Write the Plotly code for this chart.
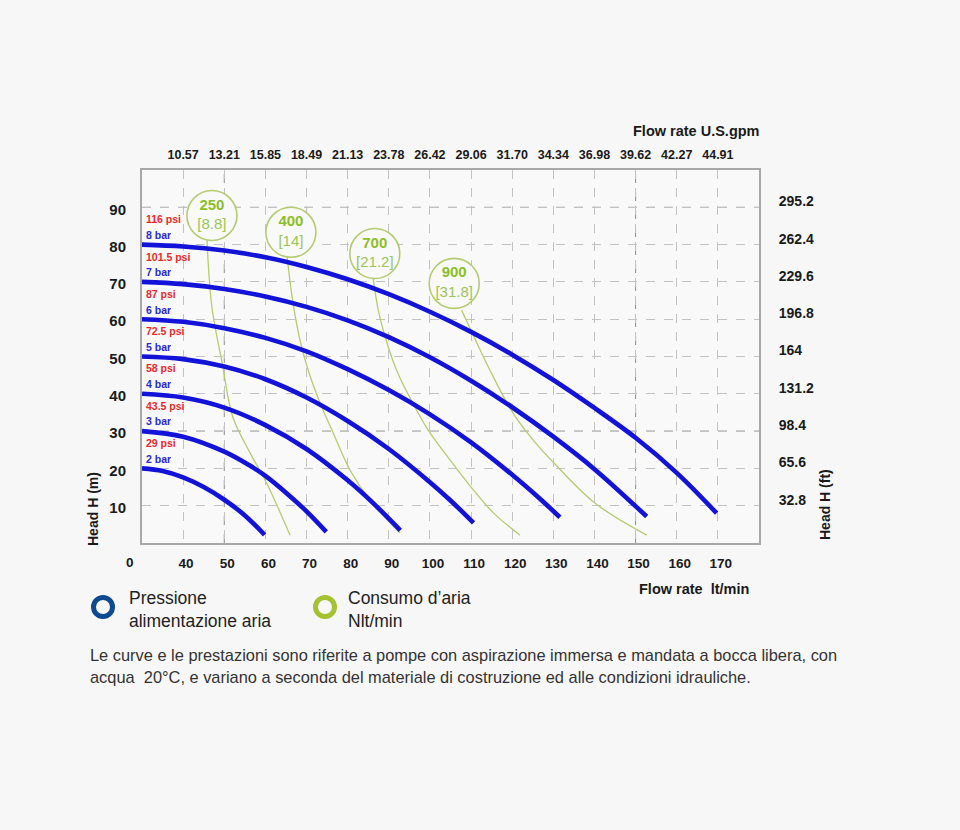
import plotly.graph_objects as go

# ---------------- data ----------------
flow_grid = [30, 40, 50, 60, 70, 80, 90, 100, 110, 120, 130, 140, 150, 160, 170]
bottom_labels = ["0", "40", "50", "60", "70", "80", "90", "100", "110", "120",
                 "130", "140", "150", "160", "170"]
gpm_labels = ["10.57", "13.21", "15.85", "18.49", "21.13", "23.78", "26.42", "29.06",
              "31.70", "34.34", "36.98", "39.62", "42.27", "44.91"]
head_grid = [10, 20, 30, 40, 50, 60, 70, 80, 90]
head_m_labels = ["10", "20", "30", "40", "50", "60", "70", "80", "90"]
head_ft_labels = ["32.8", "65.6", "98.4", "131.2", "164", "196.8", "229.6", "262.4", "295.2"]
strong_x = [50, 150]
strong_y = [30, 90]

# pump curves (flow l/min, head m) per air supply pressure
q_2bar = [30, 35, 40, 45, 50, 55, 59.8]
h_2bar = [20, 19.3, 17.6, 15.0, 11.6, 7.4, 2.2]
q_3bar = [30, 40, 50, 56, 60, 65, 70, 74.8]
h_3bar = [30, 28.5, 24.5, 20.9, 18.0, 13.5, 8.5, 3.0]
q_4bar = [30, 40, 50, 60, 70, 80, 86, 92.8]
h_4bar = [40, 39.0, 36.3, 31.6, 25.2, 16.8, 10.9, 3.4]
q_5bar = [30, 40, 50, 60, 70, 80, 90, 100, 105, 110.6]
h_5bar = [50, 49.3, 47.3, 43.9, 39.0, 32.7, 25.2, 16.3, 11.4, 5.4]
q_6bar = [30, 40, 50, 60, 70, 80, 90, 100, 110, 120, 126, 131.6]
h_6bar = [60, 59.3, 57.6, 55.0, 51.4, 46.6, 41.0, 34.5, 27.0, 18.3, 12.6, 6.9]
q_7bar = [30, 40, 50, 60, 70, 80, 90, 100, 110, 120, 130, 140, 152.7]
h_7bar = [70, 69.4, 68.1, 66.1, 63.3, 59.7, 55.2, 49.8, 43.5, 36.4, 28.5, 19.8, 7.1]
q_8bar = [30, 40, 50, 60, 70, 80, 90, 100, 110, 120, 130, 140, 150, 160, 169.7]
h_8bar = [80, 79.5, 78.4, 76.6, 74.0, 70.7, 66.7, 62.0, 56.6, 50.5, 43.7, 36.2, 28.2, 18.8, 8.0]

bar_labels = ["2 bar", "3 bar", "4 bar", "5 bar", "6 bar", "7 bar", "8 bar"]
psi_labels = ["29 psi", "43.5 psi", "58 psi", "72.5 psi", "87 psi", "101.5 psi", "116 psi"]
start_heads = [20, 30, 40, 50, 60, 70, 80]

# air consumption iso-lines (Nlt/min)
q_air250 = [45.8, 47.0, 49.5, 52.1, 56.3, 60.1, 66.0]
h_air250 = [81.1, 63.2, 48.2, 33.7, 24.1, 16.5, 2.1]
q_air400 = [65.3, 66.5, 68.4, 70.4, 73.3, 76.4, 80.6, 85.4, 92.7]
h_air400 = [76.6, 65.9, 54.4, 46.3, 37.5, 29.7, 19.5, 11.5, 2.7]
q_air700 = [86.2, 87.6, 89.6, 92.2, 95.6, 99.6, 104.6, 110.0, 115.5, 121.9]
h_air700 = [70.9, 61.6, 53.5, 45.5, 38.0, 30.2, 22.7, 15.0, 8.0, 2.1]
q_air900 = [107.7, 110.0, 114.6, 120.2, 125.1, 130.2, 140.1, 152.7]
h_air900 = [62.4, 57.0, 46.3, 34.8, 27.6, 21.4, 10.7, 2.1]

air_nl = ["250", "400", "700", "900"]
air_scfm = ["[8.8]", "[14]", "[21.2]", "[31.8]"]
bubble_q = [47.0, 66.2, 86.6, 105.9]
bubble_h = [87.8, 83.3, 77.6, 69.6]

# ---------------- style ----------------
FONT = "Arial, 'Liberation Sans', sans-serif"
PAPER = "#f7f7f7"
PLOTBG = "#f9f9f9"
BLUE = "#1212d8"
GREEN_LINE = "#b5cb70"
GREEN_TXT = "#8cbe2a"
GREEN_TXT2 = "#9cc455"
RED = "#e8282c"
LBLUE = "#2a2ad2"
DARK = "#1a1a1a"

fig = go.Figure()

for q, h in [(q_air250, h_air250), (q_air400, h_air400),
             (q_air700, h_air700), (q_air900, h_air900)]:
    fig.add_trace(go.Scatter(x=q, y=h, mode="lines",
                             line=dict(color=GREEN_LINE, width=1.3, shape="spline", smoothing=1.0),
                             hoverinfo="skip", showlegend=False))

for q, h in [(q_2bar, h_2bar), (q_3bar, h_3bar), (q_4bar, h_4bar), (q_5bar, h_5bar),
             (q_6bar, h_6bar), (q_7bar, h_7bar), (q_8bar, h_8bar)]:
    fig.add_trace(go.Scatter(x=q, y=h, mode="lines",
                             line=dict(color=BLUE, width=4.6, shape="spline", smoothing=1.0),
                             showlegend=False))

bubble_text = [f"<b>{a}</b><br><span style='color:{GREEN_TXT2}'>{s}</span>" for a, s in zip(air_nl, air_scfm)]
fig.add_trace(go.Scatter(
    x=bubble_q, y=bubble_h, mode="markers+text", text=bubble_text, textposition="middle center",
    textfont=dict(family=FONT, size=15, color=GREEN_TXT),
    marker=dict(size=50, color=PLOTBG, line=dict(color=GREEN_LINE, width=1.6)),
    showlegend=False, hoverinfo="skip"))

# invisible trace on secondary axes so they render
fig.add_trace(go.Scatter(x=[flow_grid[0]], y=[head_grid[0]], xaxis="x2", yaxis="y2",
                         mode="markers", marker=dict(opacity=0), showlegend=False, hoverinfo="skip"))

x_range = [flow_grid[0], flow_grid[-1] + 10]
y_range = [0, 100]

shapes = []
for v in strong_x:
    shapes.append(dict(type="line", xref="x", yref="y", x0=v, x1=v, y0=y_range[0], y1=y_range[1],
                       line=dict(color="#8c8c8c", width=1, dash="dash"), layer="below"))
for v in strong_y:
    shapes.append(dict(type="line", xref="x", yref="y", y0=v, y1=v, x0=x_range[0], x1=x_range[1],
                       line=dict(color="#8c8c8c", width=1, dash="dash"), layer="below"))

# legend rings (pixel-sized circles anchored in paper coordinates)
for cx, col in [(-0.0632, "#0d4a8f"), (0.2966, "#a4c232")]:
    shapes.append(dict(type="circle", xref="paper", yref="paper", xsizemode="pixel", ysizemode="pixel",
                       xanchor=cx, yanchor=-0.1716, x0=-9.5, x1=9.5, y0=-9.5, y1=9.5,
                       line=dict(color=col, width=5)))

annotations = []
for h0, bl, pl in zip(start_heads, bar_labels, psi_labels):
    annotations.append(dict(x=flow_grid[0], y=h0 + 2.6, xref="x", yref="y", text=f"<b>{bl}</b>",
                            showarrow=False, xanchor="left", yanchor="middle", xshift=2, height=12,
                            font=dict(family=FONT, size=10.5, color=LBLUE)))
    annotations.append(dict(x=flow_grid[0], y=h0 + 6.8, xref="x", yref="y", text=f"<b>{pl}</b>",
                            showarrow=False, xanchor="left", yanchor="middle", xshift=2, height=12,
                            font=dict(family=FONT, size=10.5, color=RED)))

annotations.append(dict(x=flow_grid[0], y=-0.0536, xref="x", yref="paper", text=f"<b>{bottom_labels[0]}</b>",
                        showarrow=False, xanchor="center", yanchor="middle", xshift=-12,
                        font=dict(family=FONT, size=13.5, color=DARK)))

def pann(text, x, y, size, xanchor="left", angle=0, bold=True, color=DARK):
    annotations.append(dict(x=x, y=y, xref="paper", yref="paper",
                            text=f"<b>{text}</b>" if bold else text, showarrow=False,
                            xanchor=xanchor, yanchor="middle", textangle=angle, align="left",
                            font=dict(family=FONT, size=size, color=color)))

pann("Flow rate U.S.gpm", 1.0049, 1.1046, 14.5, xanchor="right")
pann("Flow rate  lt/min", 0.8023, -0.1233, 14.5)
pann("Head H (m)", -0.0794, 0.0912, 14, xanchor="center", angle=-90)
pann("Head H (ft)", 1.107, 0.1019, 14, xanchor="center", angle=-90)
pann("Pressione<br>alimentazione aria", -0.0243, -0.1796, 17.5, bold=False, color="#222222")
pann("Consumo d’aria<br>Nlt/min", 0.3306, -0.1796, 17.5, bold=False, color="#222222")
pann("Le curve e le prestazioni sono riferite a pompe con aspirazione immersa e mandata a bocca libera, con",
     -0.0875, -0.3003, 16.4, bold=False, color="#333333")
pann("acqua  20°C, e variano a seconda del materiale di costruzione ed alle condizioni idrauliche.",
     -0.0875, -0.3592, 16.4, bold=False, color="#333333")

axis_common = dict(showline=True, mirror=True, linecolor="#a8a8a8", linewidth=2, zeroline=False,
                   ticks="outside", tickcolor="rgba(0,0,0,0)")

fig.update_layout(
    width=960, height=830,
    margin=dict(l=142, r=201, t=170, b=287),
    paper_bgcolor=PAPER, plot_bgcolor=PLOTBG,
    font=dict(family=FONT, color=DARK),
    xaxis=dict(range=x_range, tickmode="array", tickvals=flow_grid[1:],
               ticktext=[f"<b>{t}</b>" for t in bottom_labels[1:]],
               showgrid=True, gridcolor="#c2c2c2", griddash="dash", gridwidth=1,
               ticklen=7, ticklabelshift=3, tickfont=dict(size=13.5, family=FONT, color=DARK), **axis_common),
    xaxis2=dict(range=x_range, overlaying="x", side="top", tickmode="array", tickvals=flow_grid[1:],
                ticktext=[f"<b>{t}</b>" for t in gpm_labels], showgrid=False, showline=False,
                zeroline=False, ticks="outside", tickcolor="rgba(0,0,0,0)", ticklen=5,
                tickfont=dict(size=12.5, family=FONT, color=DARK)),
    yaxis=dict(range=y_range, tickmode="array", tickvals=head_grid,
               ticktext=[f"<b>{t}</b>" for t in head_m_labels],
               showgrid=True, gridcolor="#c2c2c2", griddash="dash", gridwidth=1,
               ticklen=11, ticklabelshift=2, tickfont=dict(size=15, family=FONT, color=DARK), **axis_common),
    yaxis2=dict(range=y_range, overlaying="y", side="right", tickmode="array", tickvals=head_grid,
                ticktext=[f"<b>{t}</b>" for t in head_ft_labels], showgrid=False, showline=False,
                zeroline=False, ticks="outside", tickcolor="rgba(0,0,0,0)", ticklen=16, ticklabelshift=-6,
                tickfont=dict(size=14, family=FONT, color=DARK)),
    shapes=shapes, annotations=annotations,
)

fig.write_html("out.html", config={"displayModeBar": False},
               post_script="document.body.style.margin='0';document.body.style.background='" + PAPER + "';")
